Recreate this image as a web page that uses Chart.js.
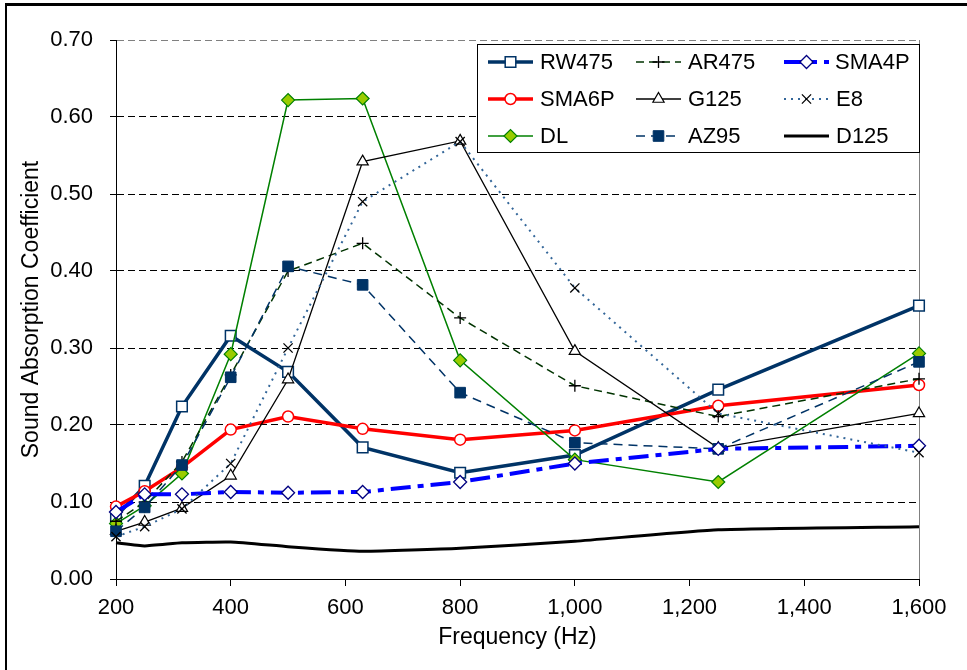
<!DOCTYPE html>
<html>
<head>
<meta charset="utf-8">
<script src="https://cdn.jsdelivr.net/npm/chart.js@4.4.1/dist/chart.umd.min.js"></script>
<style>
  html, body { margin: 0; padding: 0; background: #fff; }
  #wrap { position: relative; width: 967px; height: 670px; overflow: hidden; }
  #frame { position: absolute; left: 5px; top: 3px; width: 1000px; height: 1000px;
           border-left: 2px solid #000; border-top: 3px solid #000; pointer-events: none; }
  canvas { position: absolute; left: 0; top: 0; }
</style>
</head>
<body>
<div id="wrap">
  <canvas id="c" width="967" height="670"></canvas>
  <div id="frame"></div>
</div>
<script>
// ---- data ----
const frequencies = [200, 250, 315, 400, 500, 630, 800, 1000, 1250, 1600];
const RW475 = [0.081, 0.121, 0.224, 0.316, 0.269, 0.171, 0.138, 0.161, 0.246, 0.355];
const SMA6P = [0.094, 0.114, 0.145, 0.194, 0.211, 0.195, 0.181, 0.193, 0.225, 0.252];
const DL    = [0.072, 0.095, 0.137, 0.292, 0.622, 0.624, 0.284, 0.155, 0.126, 0.293];
const AR475 = [0.075, 0.100, 0.152, 0.265, 0.400, 0.436, 0.339, 0.251, 0.211, 0.260];
const G125  = [0.062, 0.074, 0.092, 0.134, 0.259, 0.542, 0.569, 0.296, 0.170, 0.215];
const AZ95  = [0.062, 0.093, 0.148, 0.262, 0.406, 0.382, 0.242, 0.177, 0.169, 0.282];
const SMA4P = [0.087, 0.110, 0.110, 0.113, 0.112, 0.113, 0.126, 0.150, 0.169, 0.173];
const E8    = [0.055, 0.068, 0.091, 0.150, 0.300, 0.490, 0.568, 0.378, 0.215, 0.164];
const D125  = [0.047, 0.043, 0.047, 0.048, 0.042, 0.036, 0.040, 0.049, 0.064, 0.068];
const xTicks = [200, 400, 600, 800, 1000, 1200, 1400, 1600];
const yTicks = [0.00, 0.10, 0.20, 0.30, 0.40, 0.50, 0.60, 0.70];
const xTitle = 'Frequency (Hz)';
const yTitle = 'Sound Absorption Coefficient';
// legend order (row-major, 3 columns)
const legendOrder = ['RW475', 'AR475', 'SMA4P', 'SMA6P', 'G125', 'E8', 'DL', 'AZ95', 'D125'];

const FONT = "'Liberation Sans', Arial, sans-serif";
const pts = arr => arr.map((v, i) => ({x: frequencies[i], y: v}));

const seriesDefs = [
  {label: 'RW475', data: RW475, borderColor: '#003366', borderWidth: 3.5, borderDash: [],
   pointStyle: 'rect', pointRadius: 7.5, pointBackgroundColor: '#fff', pointBorderColor: '#003366', pointBorderWidth: 1.5},
  {label: 'SMA6P', data: SMA6P, borderColor: '#ff0000', borderWidth: 3.5, borderDash: [],
   pointStyle: 'circle', pointRadius: 5.5, pointBackgroundColor: '#fff', pointBorderColor: '#ff0000', pointBorderWidth: 1.5},
  {label: 'DL', data: DL, borderColor: '#008000', borderWidth: 1.5, borderDash: [],
   pointStyle: 'rectRot', pointRadius: 6.5, pointBackgroundColor: '#99cc00', pointBorderColor: '#008000', pointBorderWidth: 1.2},
  {label: 'AR475', data: AR475, borderColor: '#003300', borderWidth: 1.5, borderDash: [8, 5],
   pointStyle: 'cross', pointRadius: 6, pointBackgroundColor: '#000', pointBorderColor: '#000', pointBorderWidth: 1.3},
  {label: 'G125', data: G125, borderColor: '#000000', borderWidth: 1.3, borderDash: [],
   pointStyle: 'triangle', pointRadius: 6.5, pointBackgroundColor: '#fff', pointBorderColor: '#000', pointBorderWidth: 1.2},
  {label: 'AZ95', data: AZ95, borderColor: '#003366', borderWidth: 1.5, borderDash: [9, 6],
   pointStyle: 'rect', pointRadius: 7.5, pointBackgroundColor: '#003366', pointBorderColor: '#003366', pointBorderWidth: 1},
  {label: 'SMA4P', data: SMA4P, borderColor: '#0000ff', borderWidth: 4, borderDash: [20, 7, 6, 7],
   pointStyle: 'rectRot', pointRadius: 6.5, pointBackgroundColor: '#fff', pointBorderColor: '#000080', pointBorderWidth: 1.3},
  {label: 'E8', data: E8, borderColor: '#336699', borderWidth: 2, borderDash: [2, 5],
   pointStyle: 'crossRot', pointRadius: 6.5, pointBackgroundColor: '#000', pointBorderColor: '#000', pointBorderWidth: 1.3},
  {label: 'D125', data: D125, borderColor: '#000000', borderWidth: 3, borderDash: [], tension: 0.15,
   pointStyle: 'circle', pointRadius: 0, pointBackgroundColor: '#000', pointBorderColor: '#000', pointBorderWidth: 0}
];

const datasets = seriesDefs.map((s, k) => Object.assign({}, s, {
  data: pts(s.data),
  order: seriesDefs.length - 1 - k,
  fill: false,
  tension: s.tension || 0,
  pointHoverRadius: s.pointRadius,
  clip: false
}));

const plotFrame = {
  id: 'plotFrame',
  beforeDatasetsDraw(chart) {
    const {ctx, chartArea: a} = chart;
    ctx.save();
    ctx.strokeStyle = '#808080';
    ctx.lineWidth = 1;
    ctx.beginPath();
    ctx.moveTo(a.right + 0.5, a.top);
    ctx.lineTo(a.right + 0.5, a.bottom);
    ctx.stroke();
    ctx.restore();
  }
};

const boxLegend = {
  id: 'boxLegend',
  afterDraw(chart) {
    const {ctx, chartArea: a} = chart;
    const bx = a.right - 442, by = a.top + 4, bw = 443, bh = 109;
    ctx.save();
    ctx.fillStyle = '#fff';
    ctx.fillRect(bx, by, bw, bh);
    ctx.strokeStyle = '#000';
    ctx.lineWidth = 1;
    ctx.setLineDash([]);
    ctx.strokeRect(bx + 0.5, by + 0.5, bw - 1, bh - 1);
    const colX = [bx + 11, bx + 159, bx + 307];
    const rowY = [by + 18, by + 55, by + 92];
    const sampleLen = 45;
    ctx.font = '22px ' + FONT;
    ctx.textBaseline = 'middle';
    ctx.textAlign = 'left';
    legendOrder.forEach((name, i) => {
      const s = seriesDefs.find(d => d.label === name);
      const x0 = colX[i % 3], y = rowY[Math.floor(i / 3)];
      ctx.save();
      ctx.strokeStyle = s.borderColor;
      ctx.lineWidth = s.borderWidth;
      ctx.setLineDash(s.borderDash || []);
      ctx.beginPath();
      ctx.moveTo(x0, y);
      ctx.lineTo(x0 + sampleLen, y);
      ctx.stroke();
      ctx.setLineDash([]);
      if (s.pointRadius > 0) {
        ctx.fillStyle = s.pointBackgroundColor;
        ctx.strokeStyle = s.pointBorderColor;
        ctx.lineWidth = s.pointBorderWidth;
        Chart.helpers.drawPoint(ctx, {pointStyle: s.pointStyle, radius: s.pointRadius, rotation: 0, borderWidth: s.pointBorderWidth}, x0 + sampleLen / 2, y);
      }
      ctx.restore();
      ctx.fillStyle = '#000';
      const tx = (name === 'SMA4P') ? x0 + 51 : x0 + 52;
      ctx.fillText(name, tx, y + 1);
    });
    ctx.restore();
  }
};

new Chart(document.getElementById('c'), {
  type: 'line',
  data: {datasets},
  options: {
    responsive: false,
    animation: false,
    events: [],
    layout: {padding: {left: 0, top: 40, right: 48, bottom: 0}},
    plugins: {legend: {display: false}, tooltip: {enabled: false}, title: {display: false}},
    scales: {
      x: {
        type: 'linear',
        min: 200, max: 1600,
        afterBuildTicks: sc => { sc.ticks = xTicks.map(v => ({value: v})); },
        afterFit: sc => { sc.height = 91; },
        ticks: {
          color: '#000', font: {family: FONT, size: 22}, padding: 9,
          maxRotation: 0, autoSkip: false,
          callback: v => Number(v).toLocaleString('en-US')
        },
        grid: {drawOnChartArea: false, drawTicks: true, tickLength: 7, tickColor: '#000', tickWidth: 1, tickBorderDash: []},
        border: {display: true, color: '#000', width: 1},
        title: {display: true, text: xTitle, color: '#000', font: {family: FONT, size: 23}, padding: {top: 0, bottom: 19}}
      },
      y: {
        type: 'linear',
        min: 0, max: 0.7,
        afterBuildTicks: sc => { sc.ticks = yTicks.map(v => ({value: v})); },
        afterFit: sc => { sc.width = 116; },
        ticks: {
          color: '#000', font: {family: FONT, size: 22}, padding: 17,
          callback: v => Number(v).toFixed(2)
        },
        grid: {
          color: c => (c.tick && Math.abs(c.tick.value - 0.7) < 1e-9) ? '#808080' : '#000',
          lineWidth: 1, drawTicks: true, tickLength: 6, tickColor: '#000', tickWidth: 1, tickBorderDash: []
        },
        border: {display: true, color: '#000', width: 1, dash: [7, 4]},
        title: {display: true, text: yTitle, color: '#000', font: {family: FONT, size: 23}, padding: {top: 18, bottom: 0}}
      }
    }
  },
  plugins: [plotFrame, boxLegend]
});
</script>
</body>
</html>
